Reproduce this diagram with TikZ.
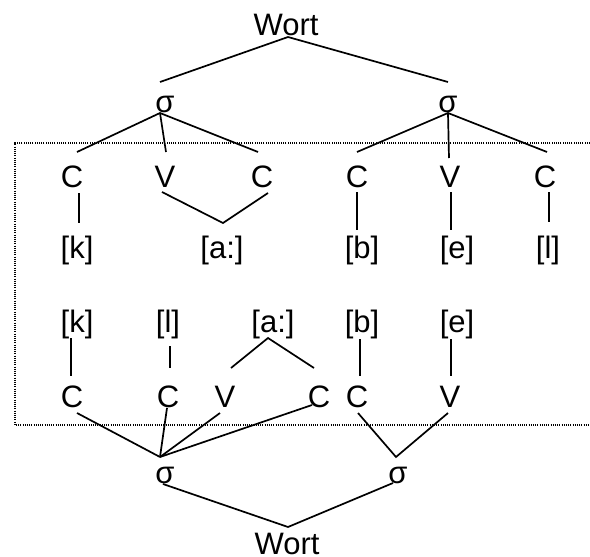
\documentclass[tikz,border=0pt]{standalone}
\usepackage{fontspec}
\setmainfont{Liberation Sans}
\usetikzlibrary{calc}
\begin{document}
\begin{tikzpicture}[x=1pt,y=-1pt,
  lbl/.style={font=\fontsize{31}{36}\selectfont, inner sep=0pt, anchor=base},
  edge/.style={line width=1.7pt},
  frame/.style={line width=1.2pt, dash pattern=on 1.1pt off 1.1pt}]
\useasboundingbox (0,0) rectangle (590,557);
% dotted frame
\draw[frame] (590,143) -- (15,143) -- (15,425) -- (590,425);
% ---------- upper tree ----------
\node[lbl] (W1) at (286,35) {Wort};
\node[lbl] (sL1) at (165,112) {σ};
\node[lbl] (sR1) at (448,112) {σ};
\node[lbl] (c1) at (72,187) {C};
\node[lbl] (v1) at (165,187) {V};
\node[lbl] (c2) at (262,187) {C};
\node[lbl] (c3) at (357,187) {C};
\node[lbl] (v2) at (450,187) {V};
\node[lbl] (c4) at (545,187) {C};
\node[lbl] (k1) at (77,258) {[k]};
\node[lbl] (a1) at (222,258) {[a:]};
\node[lbl] (b1) at (362,258) {[b]};
\node[lbl] (e1) at (457,258) {[e]};
\node[lbl] (l1) at (548,258) {[l]};
\draw[edge] ($(sL1.base)+(-5,-30)$) -- ($(W1.base)+(2,2)$) -- ($(sR1.base)+(0,-30)$);
\draw[edge] ($(c1.base)+(5,-35)$) -- ($(sL1.base)+(-5,1)$) -- ($(c2.base)+(-4,-35)$);
\draw[edge] ($(sL1.base)+(-5,1)$) -- ($(v1.base)+(1,-35)$);
\draw[edge] ($(c3.base)+(0,-35)$) -- ($(sR1.base)+(0,1)$) -- ($(c4.base)+(2,-35)$);
\draw[edge] ($(sR1.base)+(0,1)$) -- ($(v2.base)+(-1,-29)$);
\draw[edge] ($(c1.base)+(7,6)$) -- ($(k1.base)+(2,-35)$);
\draw[edge] ($(v1.base)+(-3,5)$) -- ($(a1.base)+(1,-35)$) -- ($(c2.base)+(6,6)$);
\draw[edge] ($(c3.base)+(0,5)$) -- ($(b1.base)+(-5,-28)$);
\draw[edge] ($(v2.base)+(1,5)$) -- ($(e1.base)+(-6,-28)$);
\draw[edge] ($(c4.base)+(4,5)$) -- ($(l1.base)+(1,-36)$);
% ---------- lower tree ----------
\node[lbl] (k2) at (77,332) {[k]};
\node[lbl] (l2) at (168,332) {[l]};
\node[lbl] (a2) at (273,332) {[a:]};
\node[lbl] (b2) at (362,332) {[b]};
\node[lbl] (e2) at (457,332) {[e]};
\node[lbl] (c5) at (72,407) {C};
\node[lbl] (c6) at (168,407) {C};
\node[lbl] (v3) at (225,407) {V};
\node[lbl] (c7) at (319,407) {C};
\node[lbl] (c8) at (357,407) {C};
\node[lbl] (v4) at (450,407) {V};
\node[lbl] (sL2) at (165,483) {σ};
\node[lbl] (sR2) at (398,483) {σ};
\node[lbl] (W2) at (287,554) {Wort};
\draw[edge] ($(k2.base)+(-6,6)$) -- ($(c5.base)+(-1,-31)$);
\draw[edge] ($(l2.base)+(2,14)$) -- ($(c6.base)+(2,-39)$);
\draw[edge] ($(v3.base)+(6,-39)$) -- ($(a2.base)+(-5,6)$) -- ($(c7.base)+(-5,-39)$);
\draw[edge] ($(b2.base)+(-2,7)$) -- ($(c8.base)+(3,-31)$);
\draw[edge] ($(e2.base)+(-6,7)$) -- ($(v4.base)+(1,-31)$);
\draw[edge] ($(c5.base)+(5,6)$) -- ($(sL2.base)+(-5,-26)$);
\draw[edge] ($(c6.base)+(-1,1)$) -- ($(sL2.base)+(-5,-26)$);
\draw[edge] ($(v3.base)+(-5,6)$) -- ($(sL2.base)+(-5,-26)$);
\draw[edge] ($(c7.base)+(-7,-2)$) -- ($(sL2.base)+(-5,-26)$);
\draw[edge] ($(c8.base)+(1,6)$) -- ($(sR2.base)+(-2,-26)$) -- ($(v4.base)+(-2,6)$);
\draw[edge] ($(sL2.base)+(-2,1)$) -- ($(W2.base)+(1,-27)$) -- ($(sR2.base)+(-5,0)$);
\end{tikzpicture}
\end{document}
